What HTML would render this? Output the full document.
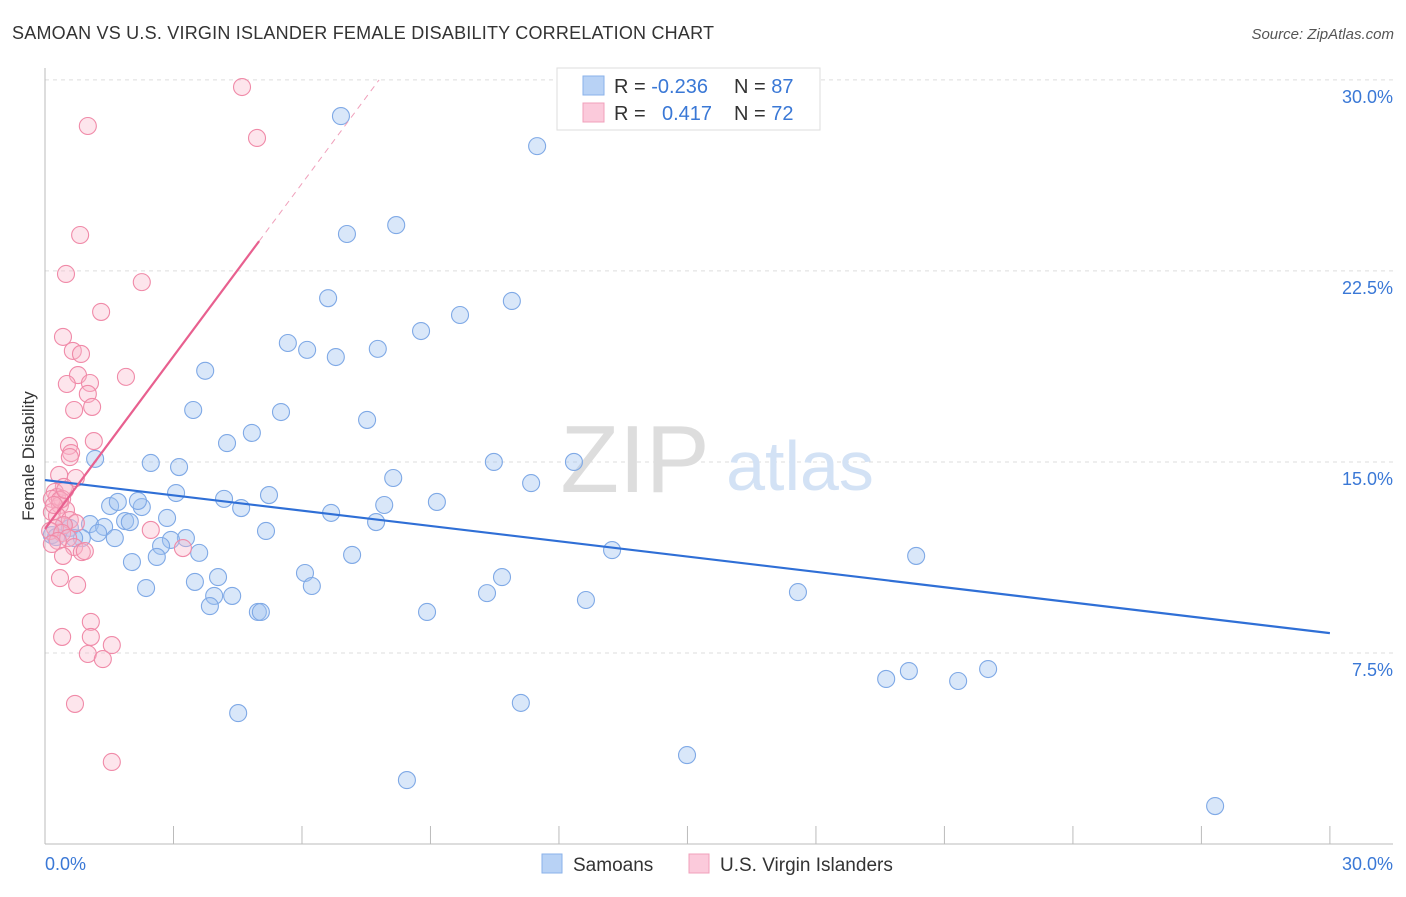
<!DOCTYPE html>
<html><head><meta charset="utf-8"><style>
body{margin:0;background:#fff;font-family:"Liberation Sans",sans-serif;}
svg text{font-family:"Liberation Sans",sans-serif;}
</style></head><body>
<svg id="chart" width="1406" height="892" xmlns="http://www.w3.org/2000/svg">
<text x="12" y="39" font-size="18" fill="#333" textLength="702">SAMOAN VS U.S. VIRGIN ISLANDER FEMALE DISABILITY CORRELATION CHART</text>
<text x="1394" y="39" font-size="15" fill="#555" font-style="italic" text-anchor="end">Source: ZipAtlas.com</text>
<text x="34" y="456" font-size="17" fill="#333" text-anchor="middle" transform="rotate(-90 34 456)">Female Disability</text>
<g id="grid"></g>
<g><text x="635" y="492" font-size="96" fill="#ddd" font-family="Liberation Serif" text-anchor="middle">ZIP</text><text x="800" y="490" font-size="70" fill="#d3e2f5" text-anchor="middle">atlas</text></g>
<g id="axes"></g>
<g id="points"></g>
<g id="trends"></g>
<g>
<rect x="557" y="68" width="263" height="62" fill="#fff" stroke="#ddd"/>
<rect x="583" y="76" width="21" height="19" fill="#b8d2f5" stroke="#8ab2ea"/>
<rect x="583" y="103" width="21" height="19" fill="#fbcadb" stroke="#f0a0bb"/>
<text x="614" y="93" font-size="20" fill="#333">R = <tspan fill="#3a78d6">-0.236</tspan></text>
<text x="734" y="93" font-size="20" fill="#333">N = <tspan fill="#3a78d6">87</tspan></text>
<text x="614" y="120" font-size="20" fill="#333">R = </text><text x="662" y="120" font-size="20" fill="#3a78d6">0.417</text>
<text x="734" y="120" font-size="20" fill="#333">N = <tspan fill="#3a78d6">72</tspan></text>
</g>
<g>
<rect x="542" y="854" width="20" height="19" fill="#b8d2f5" stroke="#8ab2ea"/>
<text x="573" y="871" font-size="19" fill="#333">Samoans</text>
<rect x="689" y="854" width="20" height="19" fill="#fbcadb" stroke="#f0a0bb"/>
<text x="720" y="871" font-size="19" fill="#333">U.S. Virgin Islanders</text>
</g>
</svg>
<script>
const yTicks=[7.5,15,22.5,30];
const yTickLabels=["7.5%","15.0%","22.5%","30.0%"];
const xTickCount=10;
const blueX=[6.91,11.49,7.05,8.20,6.61,10.90,9.69,8.78,5.67,6.12,6.79,7.77,3.74,3.46,5.51,7.52,4.83,4.25,1.17,2.47,3.13,10.48,12.35,8.13,11.35,3.06,5.23,4.18,9.15,1.52,1.70,2.26,2.17,4.58,7.92,6.68,1.87,1.98,2.85,7.73,5.16,1.05,1.38,0.44,0.58,0.16,0.26,0.86,0.68,1.24,1.63,3.29,2.94,2.71,3.60,7.17,13.24,20.34,2.03,2.61,4.04,6.07,10.67,3.50,2.36,6.23,10.32,3.95,4.37,17.58,12.63,3.85,4.97,5.04,8.92,19.64,20.17,21.32,22.02,4.51,11.11,14.99,8.45,27.32];
const blueY=[28.58,27.40,23.95,24.30,21.43,21.32,20.77,20.14,19.67,19.40,19.12,19.44,18.58,17.04,16.96,16.65,16.14,15.74,15.12,14.96,14.80,15.00,15.00,14.37,14.17,13.78,13.70,13.55,13.43,13.27,13.43,13.23,13.47,13.19,13.31,13.00,12.68,12.64,12.80,12.64,12.29,12.56,12.45,12.52,12.41,12.13,12.05,12.01,12.01,12.21,12.01,12.01,11.94,11.70,11.43,11.35,11.54,11.31,11.07,11.27,10.48,10.64,10.48,10.29,10.05,10.13,9.85,9.74,9.74,9.89,9.58,9.34,9.11,9.11,9.11,6.48,6.79,6.40,6.87,5.14,5.54,3.49,2.51,1.49];
const pinkX=[4.60,1.00,4.95,0.82,2.26,0.49,1.31,0.42,0.65,0.84,0.77,1.89,0.51,1.05,1.00,0.68,1.10,1.14,0.56,0.61,0.58,0.33,0.72,0.44,0.23,0.28,0.40,0.16,0.35,0.49,0.16,0.28,0.58,0.72,0.44,0.23,0.12,0.40,0.54,0.30,0.68,0.86,0.42,0.93,0.16,2.47,3.22,0.35,0.75,1.07,1.07,0.40,1.56,1.00,1.35,0.70,1.56,0.35,0.21,0.47];
const pinkY=[29.72,28.19,27.72,23.91,22.06,22.38,20.89,19.91,19.36,19.24,18.41,18.34,18.06,18.10,17.67,17.04,17.16,15.82,15.63,15.35,15.19,14.49,14.37,14.02,13.82,13.62,13.55,13.55,13.31,13.11,13.03,12.88,12.72,12.60,12.52,12.41,12.29,12.21,12.01,11.90,11.66,11.46,11.31,11.50,11.78,12.33,11.62,10.44,10.17,8.72,8.13,8.13,7.81,7.46,7.26,5.50,3.22,13.51,13.31,13.90];
const blueTrend=[[0,14.29],[30,8.28]];
const pinkTrend=[[0,12.37],[5,23.67]];
const pinkTrendDash=[[5,23.67],[7.8,30]];
const NS="http://www.w3.org/2000/svg";
const X=v=>45+v*42.83, Y=v=>844-v*25.47;
function mk(tag,attrs,parent){const e=document.createElementNS(NS,tag);for(const k in attrs)e.setAttribute(k,attrs[k]);document.getElementById(parent).appendChild(e);return e;}
yTicks.forEach((t,i)=>{
 const l=mk('line',{x1:45,x2:1393,y1:Y(t),y2:Y(t),stroke:'#ddd','stroke-dasharray':'4,4'},'grid');
 
 
 const tx=mk('text',{x:1393,y:Y(t)+23,'font-size':18,fill:'#3a78d6','text-anchor':'end'},'grid');
 tx.textContent=yTickLabels[i];
 
 
});
mk('line',{x1:45,x2:45,y1:68,y2:844,stroke:'#bbb'},'axes');
mk('line',{x1:45,x2:1393,y1:844,y2:844,stroke:'#bbb'},'axes');
for(let i=0;i<=xTickCount;i++){const tk=mk('line',{x1:X(i*3),x2:X(i*3),y1:826,y2:844,stroke:'#bbb'},'axes');
 
 }
let t0=mk('text',{x:45,y:870,'font-size':18,fill:'#3a78d6'},'axes');t0.textContent='0.0%';

let t1=mk('text',{x:1393,y:870,'font-size':18,fill:'#3a78d6','text-anchor':'end'},'axes');t1.textContent='30.0%';

blueX.forEach((x,i)=>{const c=mk('circle',{cx:X(x),cy:Y(blueY[i]),r:8.5,fill:'rgba(160,196,240,0.4)',stroke:'#7fa9e6','stroke-width':1.1},'points');
 
 });
pinkX.forEach((x,i)=>{const c=mk('circle',{cx:X(x),cy:Y(pinkY[i]),r:8.5,fill:'rgba(248,180,200,0.35)',stroke:'#f08aa8','stroke-width':1.1},'points');
 
 });
const bl=mk('line',{x1:X(blueTrend[0][0]),y1:Y(blueTrend[0][1]),x2:X(blueTrend[1][0]),y2:Y(blueTrend[1][1]),stroke:'#2f6fd6','stroke-width':2.2},'trends');

const pl=mk('line',{x1:X(pinkTrend[0][0]),y1:Y(pinkTrend[0][1]),x2:X(pinkTrend[1][0]),y2:Y(pinkTrend[1][1]),stroke:'#e8608f','stroke-width':2.2},'trends');

const pd=mk('line',{x1:X(pinkTrendDash[0][0]),y1:Y(pinkTrendDash[0][1]),x2:X(pinkTrendDash[1][0]),y2:Y(pinkTrendDash[1][1]),stroke:'#f0a0bb','stroke-width':1,'stroke-dasharray':'6,5'},'trends');

</script>
</body></html>
